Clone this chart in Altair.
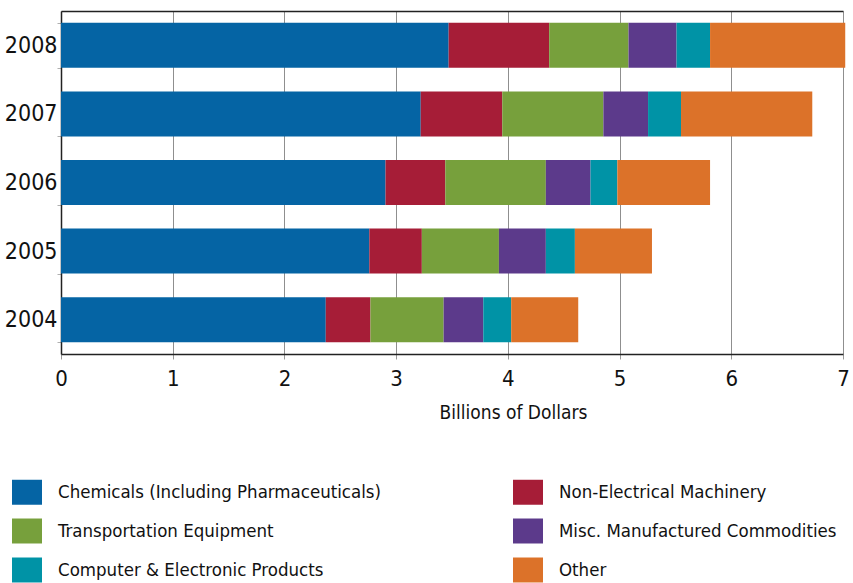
import altair as alt
import pandas as pd

years = ["2004", "2005", "2006", "2007", "2008"]
categories = [
    "Chemicals (Including Pharmaceuticals)",
    "Non-Electrical Machinery",
    "Transportation Equipment",
    "Misc. Manufactured Commodities",
    "Computer & Electronic Products",
    "Other",
]
colors = ["#0564a4", "#a61d37", "#77a03c", "#5c3a8b", "#0093a6", "#dc7229"]

# Values in billions of dollars, one entry per year (2004..2008)
chemicals = [2.37, 2.76, 2.905, 3.22, 3.47]
non_electrical = [0.40, 0.47, 0.535, 0.73, 0.90]
transportation = [0.655, 0.69, 0.90, 0.905, 0.71]
misc_manufactured = [0.355, 0.42, 0.40, 0.40, 0.43]
computer_electronic = [0.25, 0.26, 0.24, 0.295, 0.30]
other = [0.60, 0.69, 0.83, 1.175, 1.21]

series = [chemicals, non_electrical, transportation,
          misc_manufactured, computer_electronic, other]

rows = []
for idx, (cat, vals) in enumerate(zip(categories, series)):
    for year, v in zip(years, vals):
        rows.append({"year": year, "category": cat, "value": v, "idx": idx})
df = pd.DataFrame(rows)

# The legend fills column by column, so list the entries in that order
legend_order = [0, 2, 4, 1, 3, 5]
legend_domain = [categories[i] for i in legend_order]
legend_range = [colors[i] for i in legend_order]

FONT = "DejaVu Sans Condensed, sans-serif"

base = alt.Chart(df)

bars = base.mark_bar().encode(
    x=alt.X(
        "value:Q",
        stack="zero",
        scale=alt.Scale(domain=[0, 7], nice=False),
        axis=alt.Axis(
            values=list(range(8)),
            grid=True,
            gridColor="#8f8f8f",
            gridWidth=1,
            domainColor="#222222",
            domainWidth=1.5,
            tickColor="#9a9a9a",
            tickSize=5,
            labelFontSize=22,
            labelColor="#111111",
            labelPadding=9,
            labelFlush=False,
            labelFont=FONT,
            title="Billions of Dollars",
            titleFont=FONT,
            titleFontSize=19,
            titleFontWeight="normal",
            titleColor="#111111",
            titleX=452,
            titleY=58,
            titleBaseline="middle",
        ),
    ),
    y=alt.Y(
        "year:N",
        sort="descending",
        scale=alt.Scale(paddingInner=0.344, paddingOuter=0.172),
        axis=alt.Axis(
            title=None,
            tickBand="extent",
            tickColor="#b0b0b0",
            tickSize=4,
            domainColor="#222222",
            domainWidth=1.5,
            labelFontSize=23,
            labelFont=FONT,
            labelColor="#111111",
            labelPadding=0,
        ),
    ),
    color=alt.Color(
        "category:N",
        scale=alt.Scale(domain=legend_domain, range=legend_range),
        legend=alt.Legend(
            title=None,
            orient="none",
            legendX=-49,
            legendY=466,
            columns=2,
            symbolType="M-1,-0.833H1V0.833H-1Z",
            symbolSize=900,
            symbolStrokeWidth=0,
            symbolOpacity=1,
            labelFont=FONT,
            labelFontSize=18.5,
            labelColor="#111111",
            labelOffset=16,
            labelLimit=0,
            rowPadding=11,
            columnPadding=131,
        ),
    ),
    order=alt.Order("idx:Q"),
)

# Invisible copy of the bars carrying a top axis, which draws the upper frame line
top_frame = base.mark_bar(opacity=0).encode(
    x=alt.X(
        "value:Q",
        stack="zero",
        scale=alt.Scale(domain=[0, 7], nice=False),
        axis=alt.Axis(orient="top", labels=False, ticks=False, grid=False,
                      domainColor="#222222", domainWidth=1.5, title=None),
    ),
    y=alt.Y("year:N", sort="descending"),
    order=alt.Order("idx:Q"),
)

chart = (
    alt.layer(bars, top_frame)
    .resolve_axis(x="independent")
    .properties(
        width=782,
        height=343,
        autosize=alt.AutoSizeParams(type="none"),
        padding={"left": 61, "top": 11, "right": 10, "bottom": 229},
        background="white",
    )
    .configure_view(stroke=None)
)

chart.save("out.html", embed_options={"renderer": "svg", "actions": False})
